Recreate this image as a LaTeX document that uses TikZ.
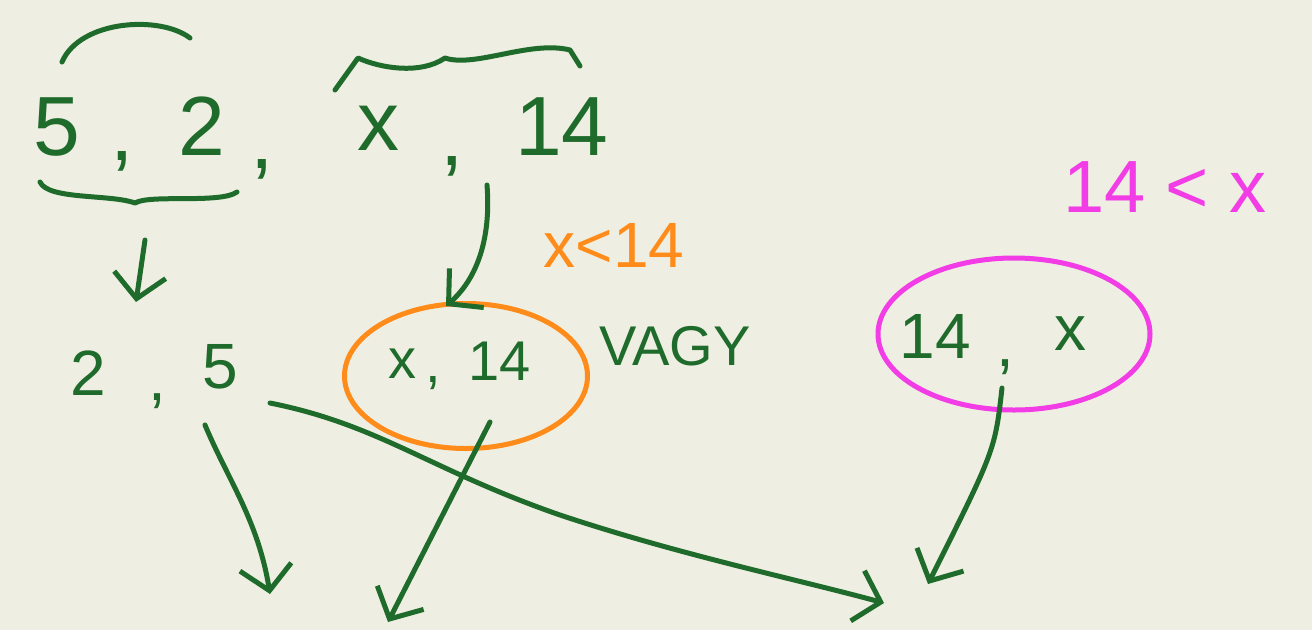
\documentclass[tikz,border=0pt]{standalone}
\usepackage{fontspec}
\setmainfont{Liberation Sans}
\usetikzlibrary{arrows.meta,shapes.geometric}
\definecolor{ink}{HTML}{1F6B2B}
\definecolor{orng}{HTML}{FF8C1A}
\definecolor{mgnt}{HTML}{F23CE6}
\definecolor{paper}{HTML}{EEEFE2}
\begin{document}
\begin{tikzpicture}[x=1pt, y=-1pt, every node/.style={text=ink, inner sep=0pt, anchor=base}, every path/.style={line width=5pt, line cap=round, line join=round}, big/.style={font=\fontsize{84}{90}\selectfont}, mid/.style={font=\fontsize{64}{70}\selectfont}, sml/.style={font=\fontsize{56}{60}\selectfont}, arr/.style={draw=ink, -{Straight Barb[length=24pt, width=52pt]}}]
			\fill[paper] (0,0) rectangle (1312,630);
			% first row
			\node[big] (n5) at (57,155) {5};
			\node[big] (c1) at (122,160) {,};
			\node[big] (n2) at (202,155) {2};
			\node[big] (c2) at (262,168) {,};
			\node[big] (nx) at (378,150) {x};
			\node[big] (c3) at (452,165) {,};
			\node[big] (n14) at (562,155) {14};
			\draw[ink] (62,62) .. controls (80,20) and (160,15) .. (190,38);
			\draw[ink] (335,90) -- (358,58) .. controls (380,68) and (420,75) .. (445,58) .. controls (475,68) and (530,40) .. (570,50) -- (580,66);
			\draw[ink] (40,182) .. controls (48,200) and (110,194) .. (135,203) .. controls (150,194) and (220,204) .. (237,192);
			% second row
			\coordinate (d1) at (145,240);
			\coordinate (d2) at (136,302);
			\node[mid] (m2) at (88,395) {2};
			\node[mid] (mc) at (157,400) {,};
			\node[mid] (m5) at (220,388) {5};
			\node[draw=orng, ellipse, minimum width=243pt, minimum height=145pt, anchor=center] (ovx) at (466,376) {};
			\node[sml] (px) at (402,378) {x};
			\node[sml] (pc) at (433,382) {,};
			\node[sml] (p14) at (500,380) {14};
			\node[sml] (vagy) at (675,365) {VAGY};
			\node[draw=mgnt, ellipse, minimum width=272pt, minimum height=152pt, anchor=center] (ovm) at (1014,334) {};
			\node[mid] (q14) at (935,358) {14};
			\node[mid] (qc) at (1005,366) {,};
			\node[mid] (qx) at (1070,350) {x};
			\node[font=\fontsize{64}{70}\selectfont, text=orng] (lt1) at (614,267) {x<14};
			\node[font=\fontsize{74}{80}\selectfont, text=mgnt] (lt2) at (1165,212) {14 < x};
			\coordinate (b1) at (487,185);
			\coordinate (b2) at (446,306);
			\draw[arr] (d1) -- (d2);
			\draw[arr] (b1) .. controls (492,250) and (470,285) .. (b2);
			% arrows down
			\coordinate (s1) at (205,425);
			\coordinate (e1) at (270,594);
			\coordinate (s2) at (490,422);
			\coordinate (e2) at (388,622);
			\coordinate (s3) at (270,403);
			\coordinate (e3) at (884,603);
			\coordinate (s4) at (1002,388);
			\coordinate (e4) at (928,584);
			\draw[arr] (s1) .. controls (228,480) and (258,520) .. (e1);
			\draw[arr] (s2) -- (e2);
			\draw[arr] (s3) .. controls (380,425) and (430,470) .. (560,515) .. controls (680,555) and (800,580) .. (e3);
			\draw[arr] (s4) .. controls (995,450) .. (e4);
		\end{tikzpicture}
\end{document}
